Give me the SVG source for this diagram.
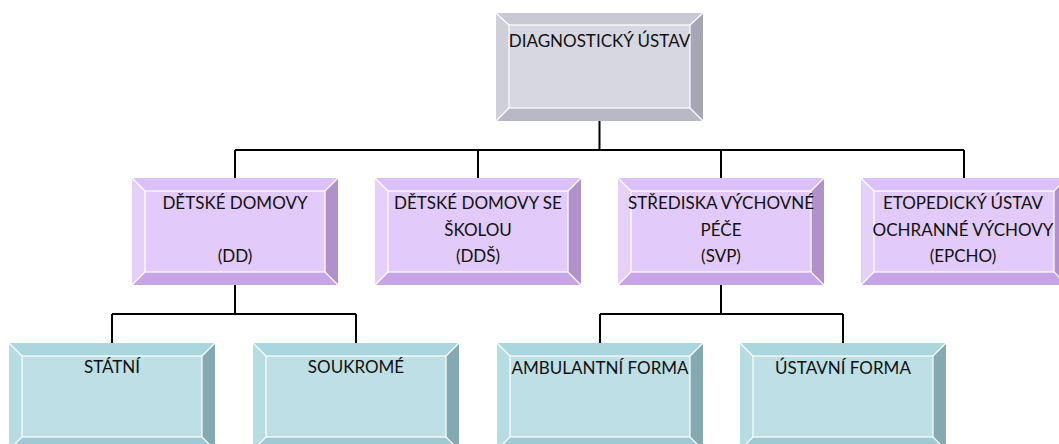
<svg xmlns="http://www.w3.org/2000/svg" xmlns:xlink="http://www.w3.org/1999/xlink" width="1059" height="444" viewBox="0 0 1059 444">
  <style>
    .lbl { font-family: Lato, "Open Sans", "Liberation Sans", sans-serif; font-size: 17px; fill: #111; text-anchor: middle; }
    .wire { fill: none; stroke: #000; stroke-width: 2; }
    .edge { fill: none; stroke: #fff; stroke-width: 1.2; }
  </style>
  <defs>
    <!-- bevelled box, 206 x 107, bevel 13 -->
    <g id="boxGray">
      <rect x="0" y="0" width="207" height="108" fill="#D7D7E1"/>
      <polygon points="0,0 207,0 194,12 13,12" fill="#C9C9D5"/>
      <polygon points="207,0 207,108 194,95 194,12" fill="#A6A6B4"/>
      <polygon points="0,108 207,108 194,95 13,95" fill="#B8B8C6"/>
      <polygon points="0,0 13,12 13,95 0,108" fill="#CFCFDA"/>
      <rect class="edge" x="13" y="12" width="181" height="83"/>
      <path class="edge" d="M0 0 L13 12 M207 0 L194 12 M207 108 L194 95 M0 108 L13 95"/>
    </g>
    <g id="boxPurple">
      <rect x="0" y="0" width="206" height="107" fill="#E2CAFA"/>
      <polygon points="0,0 206,0 193,13 13,13" fill="#DCC1F8"/>
      <polygon points="206,0 206,107 193,94 193,13" fill="#B191CA"/>
      <polygon points="0,107 206,107 193,94 13,94" fill="#C6A5E6"/>
      <polygon points="0,0 13,13 13,94 0,107" fill="#E5D0FA"/>
      <rect class="edge" x="13" y="13" width="180" height="81"/>
      <path class="edge" d="M0 0 L13 13 M206 0 L193 13 M206 107 L193 94 M0 107 L13 94"/>
    </g>
    <g id="boxTeal">
      <rect x="0" y="0" width="206" height="107" fill="#BDDFE5"/>
      <polygon points="0,0 206,0 193,13 13,13" fill="#AAD6DE"/>
      <polygon points="206,0 206,107 193,94 193,13" fill="#84A9B1"/>
      <polygon points="0,107 206,107 193,94 13,94" fill="#9ECAD3"/>
      <polygon points="0,0 13,13 13,94 0,107" fill="#B7DDE3"/>
      <rect class="edge" x="13" y="13" width="180" height="81"/>
      <path class="edge" d="M0 0 L13 13 M206 0 L193 13 M206 107 L193 94 M0 107 L13 94"/>
    </g>
  </defs>

  <rect width="1059" height="444" fill="#fff"/>

  <g id="connectors">
    <path class="wire" d="M599.5 121 V150 M235 150 H964 M235 150 V178 M478 150 V178 M721 150 V178 M964 150 V178"/>
    <path class="wire" d="M235 285 V314 M112 314 H356 M112 314 V343 M356 314 V343"/>
    <path class="wire" d="M721 285 V314 M600 314 H843 M600 314 V343 M843 314 V343"/>
  </g>

  <g id="diagnosticky-ustav">
    <use xlink:href="#boxGray" x="496" y="13"/>
    <text class="lbl" x="599.5" y="47">DIAGNOSTICKÝ ÚSTAV</text>
  </g>

  <g id="detske-domovy">
    <use xlink:href="#boxPurple" x="132" y="178"/>
    <text class="lbl" x="235" y="209">DĚTSKÉ DOMOVY</text>
    <text class="lbl" x="235" y="262">(DD)</text>
  </g>

  <g id="detske-domovy-se-skolou">
    <use xlink:href="#boxPurple" x="375" y="178"/>
    <text class="lbl" x="478" y="209">DĚTSKÉ DOMOVY SE</text>
    <text class="lbl" x="478" y="236">ŠKOLOU</text>
    <text class="lbl" x="478" y="262">(DDŠ)</text>
  </g>

  <g id="strediska-vychovne-pece">
    <use xlink:href="#boxPurple" x="618" y="178"/>
    <text class="lbl" x="721" y="209">STŘEDISKA VÝCHOVNÉ</text>
    <text class="lbl" x="721" y="236">PÉČE</text>
    <text class="lbl" x="721" y="262">(SVP)</text>
  </g>

  <g id="etopedicky-ustav">
    <use xlink:href="#boxPurple" x="861" y="178"/>
    <text class="lbl" x="963" y="209">ETOPEDICKÝ ÚSTAV</text>
    <text class="lbl" x="963" y="236">OCHRANNÉ VÝCHOVY</text>
    <text class="lbl" x="963" y="262">(EPCHO)</text>
  </g>

  <g id="statni">
    <use xlink:href="#boxTeal" x="9" y="343"/>
    <text class="lbl" x="112" y="373">STÁTNÍ</text>
  </g>

  <g id="soukrome">
    <use xlink:href="#boxTeal" x="253" y="343"/>
    <text class="lbl" x="356" y="373">SOUKROMÉ</text>
  </g>

  <g id="ambulantni-forma">
    <use xlink:href="#boxTeal" x="497" y="343"/>
    <text class="lbl" x="600" y="374">AMBULANTNÍ FORMA</text>
  </g>

  <g id="ustavni-forma">
    <use xlink:href="#boxTeal" x="740" y="343"/>
    <text class="lbl" x="843" y="374">ÚSTAVNÍ FORMA</text>
  </g>
</svg>
